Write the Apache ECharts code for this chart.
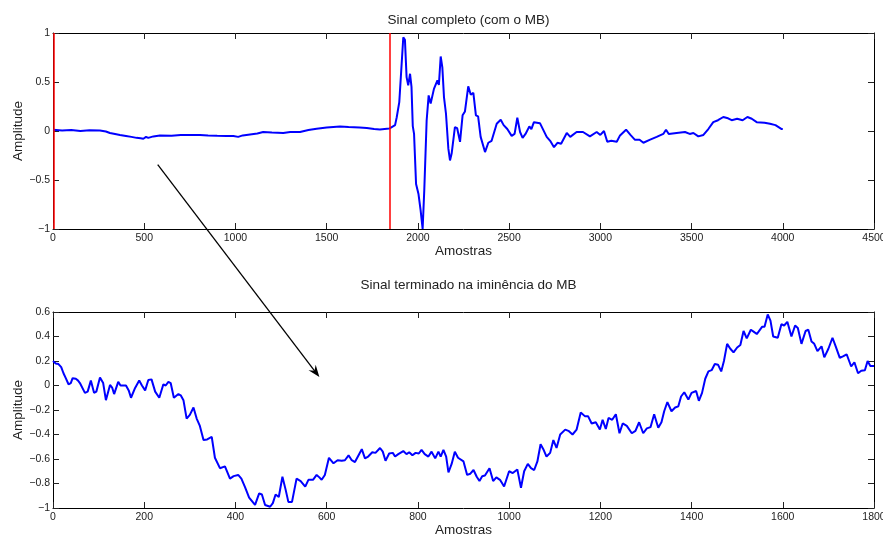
<!DOCTYPE html>
<html>
<head>
<meta charset="utf-8">
<script src="https://cdn.jsdelivr.net/npm/echarts@6/dist/echarts.min.js"></script>
<style>html,body{margin:0;padding:0;background:#fff}#c{width:883px;height:539px}</style>
</head>
<body>
<div id="c"></div>
<script>
// ---- Top panel: full signal (sample index, amplitude) ----
const topX = [0,50,100,150,200,257,290,312,340,367,400,430,458,480,495,510,522,550,586,650,700,750,806,850,900,950,989,1015,1040,1080,1120,1152,1200,1262,1300,1354,1400,1445,1500,1573,1620,1680,1720,1760,1792,1843,1875,1884,1898,1911,1920,1929,1938,1947,1957,1965,1972,1979,1990,2003,2015,2026,2035,2048,2059,2070,2080,2088,2098,2107,2115,2125,2134,2143,2154,2167,2176,2185,2194,2203,2215,2231,2245,2258,2276,2290,2304,2318,2330,2344,2368,2386,2404,2432,2454,2470,2490,2514,2530,2545,2560,2574,2590,2611,2622,2636,2669,2706,2725,2746,2765,2785,2816,2835,2870,2905,2943,2980,3000,3020,3038,3060,3090,3108,3141,3165,3190,3215,3236,3270,3309,3345,3360,3375,3418,3464,3490,3510,3537,3565,3592,3619,3645,3674,3700,3720,3750,3780,3806,3830,3857,3900,3930,3960,3994,4000];
const topY = [0.013,0.005,0.01,0.0,0.008,0.006,-0.005,-0.02,-0.03,-0.04,-0.05,-0.06,-0.07,-0.075,-0.079,-0.06,-0.07,-0.055,-0.045,-0.048,-0.04,-0.042,-0.04,-0.045,-0.048,-0.05,-0.052,-0.06,-0.045,-0.035,-0.025,-0.01,-0.015,-0.02,-0.01,-0.01,0.01,0.023,0.035,0.047,0.04,0.035,0.03,0.02,0.016,0.025,0.06,0.14,0.295,0.686,0.957,0.93,0.55,0.465,0.584,0.45,0.05,-0.03,-0.54,-0.64,-0.81,-1.0,-0.605,0.107,0.363,0.28,0.27,0.43,0.42,0.516,0.47,0.76,0.65,0.346,0.176,-0.18,-0.30,-0.23,-0.25,0.04,0.03,-0.11,0.16,0.2,0.455,0.37,0.39,0.16,0.15,-0.06,-0.215,-0.12,-0.10,0.074,0.115,0.06,0.02,-0.05,-0.03,0.135,-0.01,-0.07,-0.03,0.047,0.02,0.09,0.08,-0.06,-0.10,-0.165,-0.12,-0.13,-0.02,-0.06,-0.01,-0.01,-0.055,-0.01,-0.04,0.0,-0.11,-0.10,-0.11,-0.045,0.013,-0.04,-0.09,-0.09,-0.12,-0.09,-0.06,-0.03,0.013,-0.03,-0.02,-0.01,-0.03,-0.02,-0.055,-0.04,0.02,0.09,0.11,0.143,0.13,0.11,0.125,0.11,0.143,0.125,0.09,0.085,0.074,0.06,0.02,0.02];
const redMarks = [3, 1845];

// ---- Bottom panel: signal up to the imminence of the event ----
const botX = [0,6,12,18,23,28,34,39,43,50,55,59,63,70,76,83,90,95,103,110,116,125,130,134,143,148,152,160,166,171,180,189,195,202,209,216,224,233,242,247,253,258,265,275,280,286,293,300,308,315,322,330,338,348,355,366,377,388,396,406,413,421,430,443,452,458,465,476,482,488,495,503,510,516,524,534,543,553,560,570,578,584,589,596,605,615,624,633,640,648,655,662,677,684,691,700,707,717,723,729,737,745,750,757,768,775,781,788,795,802,808,815,823,830,838,845,850,856,862,867,874,881,888,900,908,915,922,929,935,941,947,957,965,972,980,989,1000,1008,1018,1026,1033,1041,1048,1055,1062,1069,1075,1082,1090,1097,1104,1112,1123,1130,1139,1148,1157,1166,1173,1181,1190,1199,1205,1212,1218,1226,1234,1242,1249,1258,1269,1277,1285,1294,1302,1310,1318,1327,1334,1340,1347,1356,1364,1371,1377,1384,1393,1400,1410,1416,1423,1430,1437,1444,1451,1458,1465,1471,1478,1485,1492,1500,1507,1514,1521,1530,1536,1543,1549,1555,1560,1567,1573,1579,1589,1597,1603,1610,1619,1627,1633,1641,1650,1656,1663,1669,1676,1685,1691,1700,1709,1716,1725,1733,1740,1750,1757,1765,1772,1780,1786,1792,1800];
const botY = [0.20,0.18,0.175,0.15,0.10,0.06,0.01,0.02,0.06,0.055,0.04,0.02,0.03,-0.06,-0.05,0.04,-0.06,-0.05,0.065,0.02,-0.12,0.005,-0.02,-0.07,0.03,0.0,0.01,0.0,-0.04,-0.10,-0.02,0.04,0.0,-0.04,0.045,0.05,-0.05,-0.10,0.01,0.0,0.03,0.02,-0.10,-0.07,-0.08,-0.12,-0.27,-0.24,-0.18,-0.27,-0.33,-0.445,-0.44,-0.42,-0.59,-0.675,-0.66,-0.76,-0.74,-0.73,-0.76,-0.83,-0.915,-0.975,-0.88,-0.89,-0.975,-0.99,-0.96,-0.89,-0.91,-0.745,-0.85,-0.95,-0.95,-0.76,-0.78,-0.825,-0.77,-0.77,-0.73,-0.75,-0.77,-0.73,-0.59,-0.635,-0.61,-0.615,-0.61,-0.57,-0.61,-0.625,-0.52,-0.595,-0.58,-0.545,-0.55,-0.51,-0.54,-0.615,-0.555,-0.55,-0.58,-0.56,-0.535,-0.56,-0.545,-0.57,-0.55,-0.555,-0.525,-0.56,-0.58,-0.54,-0.595,-0.54,-0.58,-0.525,-0.58,-0.71,-0.64,-0.54,-0.59,-0.62,-0.73,-0.72,-0.69,-0.745,-0.78,-0.74,-0.735,-0.675,-0.78,-0.75,-0.77,-0.825,-0.70,-0.715,-0.685,-0.835,-0.70,-0.64,-0.675,-0.69,-0.62,-0.48,-0.52,-0.58,-0.55,-0.445,-0.51,-0.40,-0.36,-0.37,-0.40,-0.36,-0.22,-0.25,-0.25,-0.31,-0.30,-0.36,-0.28,-0.355,-0.265,-0.28,-0.235,-0.39,-0.31,-0.33,-0.39,-0.37,-0.30,-0.39,-0.35,-0.34,-0.235,-0.345,-0.30,-0.21,-0.135,-0.21,-0.18,-0.17,-0.09,-0.055,-0.115,-0.06,-0.045,-0.125,-0.06,0.055,0.115,0.125,0.175,0.17,0.115,0.20,0.34,0.30,0.27,0.31,0.33,0.445,0.385,0.455,0.44,0.42,0.45,0.48,0.48,0.58,0.53,0.40,0.39,0.50,0.49,0.52,0.40,0.49,0.47,0.34,0.445,0.455,0.36,0.34,0.28,0.32,0.23,0.30,0.39,0.32,0.225,0.24,0.255,0.155,0.19,0.10,0.12,0.125,0.20,0.16,0.16];

// ---- Text ----
const titles = ['Sinal completo (com o MB)', 'Sinal terminado na iminência do MB'];
const xName = 'Amostras';
const yName = 'Amplitude';
// arrow annotation: from a point in the top panel to a point in the bottom panel (data coords)
const arrowFrom = [574, -0.344];
const arrowTo = [584, 0.069];

const FONT = 'Liberation Sans, Arial, Helvetica, sans-serif';
const fmtY = v => String(+(+v).toFixed(2)).replace('-', '\u2212');

function xAx(grid, max, interval, main) {
  return {
    type: 'value', gridIndex: grid, min: 0, max: max, interval: interval,
    position: main ? 'bottom' : 'top',
    axisLine: { show: true, onZero: false, lineStyle: { color: '#000', width: 1 } },
    axisTick: { show: true, inside: true, length: 6, lineStyle: { color: '#222', width: 1 } },
    axisLabel: { show: main, color: '#222', fontSize: 10.5, fontFamily: FONT, margin: 4,
                 hideOverlap: false, formatter: v => String(v) },
    splitLine: { show: false },
    name: main ? xName : '', nameLocation: 'middle', nameGap: 15, nameMoveOverlap: false,
    nameTextStyle: { color: '#222', fontSize: 13.5, fontFamily: FONT, verticalAlign: 'top' }
  };
}
function yAx(grid, min, max, interval, main) {
  return {
    type: 'value', gridIndex: grid, min: min, max: max, interval: interval,
    position: main ? 'left' : 'right',
    axisLine: { show: true, onZero: false, lineStyle: { color: '#000', width: 1 } },
    axisTick: { show: true, inside: true, length: 6, lineStyle: { color: '#222', width: 1 } },
    axisLabel: { show: main, color: '#222', fontSize: 10.5, fontFamily: FONT, margin: 3, formatter: fmtY },
    splitLine: { show: false },
    name: main ? yName : '', nameLocation: 'middle', nameGap: 28, nameRotate: 90, nameMoveOverlap: false,
    nameTextStyle: { color: '#222', fontSize: 13.5, fontFamily: FONT }
  };
}

const chart = echarts.init(document.getElementById('c'), null, { renderer: 'canvas' });
const option = {
  animation: false,
  backgroundColor: '#fff',
  title: [
    { text: titles[0], left: 463.5, top: 8, textAlign: 'center',
      textStyle: { fontSize: 13.5, fontWeight: 'normal', color: '#222', fontFamily: FONT } },
    { text: titles[1], left: 463.5, top: 273, textAlign: 'center',
      textStyle: { fontSize: 13.5, fontWeight: 'normal', color: '#222', fontFamily: FONT } }
  ],
  grid: [
    { left: 53, right: 9, top: 33, height: 196, containLabel: false, outerBoundsMode: 'none' },
    { left: 53, right: 9, top: 312, height: 196, containLabel: false, outerBoundsMode: 'none' }
  ],
  xAxis: [ xAx(0, 4500, 500, true), xAx(0, 4500, 500, false), xAx(1, 1800, 200, true), xAx(1, 1800, 200, false) ],
  yAxis: [ yAx(0, -1, 1, 0.5, true), yAx(0, -1, 1, 0.5, false), yAx(1, -1, 0.6, 0.2, true), yAx(1, -1, 0.6, 0.2, false) ],
  series: [
    { type: 'line', xAxisIndex: 0, yAxisIndex: 0, showSymbol: false, symbol: 'none',
      data: topX.map((x, i) => [x, topY[i]]),
      lineStyle: { color: '#0000ff', width: 2 }, itemStyle: { color: '#0000ff' },
      markLine: { silent: true, symbol: ['none', 'none'], label: { show: false },
        lineStyle: { color: '#ff0000', width: 1.5, type: 'solid', opacity: 1 },
        emphasis: { disabled: true },
        data: redMarks.map(v => ({ xAxis: v })) } },
    { type: 'line', xAxisIndex: 2, yAxisIndex: 2, showSymbol: false, symbol: 'none',
      data: botX.map((x, i) => [x, botY[i]]),
      lineStyle: { color: '#0000ff', width: 2 }, itemStyle: { color: '#0000ff' } }
  ]
};
chart.setOption(option);

// arrow annotation, positioned through the axes' own scales
const p0 = chart.convertToPixel({ seriesIndex: 0 }, arrowFrom);
const p1 = chart.convertToPixel({ seriesIndex: 1 }, arrowTo);
const dx = p1[0] - p0[0], dy = p1[1] - p0[1];
const L = Math.sqrt(dx * dx + dy * dy);
const ux = dx / L, uy = dy / L, nx = -uy, ny = ux;
const hl = 12, hw = 4.5, back = 8;
const head = [
  [p1[0], p1[1]],
  [p1[0] - ux * hl + nx * hw, p1[1] - uy * hl + ny * hw],
  [p1[0] - ux * back, p1[1] - uy * back],
  [p1[0] - ux * hl - nx * hw, p1[1] - uy * hl - ny * hw]
];
chart.setOption({
  graphic: [
    { type: 'line', silent: true, z: 100,
      shape: { x1: p0[0], y1: p0[1], x2: p1[0] - ux * 6, y2: p1[1] - uy * 6 },
      style: { stroke: '#000', lineWidth: 1.3 } },
    { type: 'polygon', silent: true, z: 100, shape: { points: head }, style: { fill: '#000' } }
  ]
});
</script>
</body>
</html>
